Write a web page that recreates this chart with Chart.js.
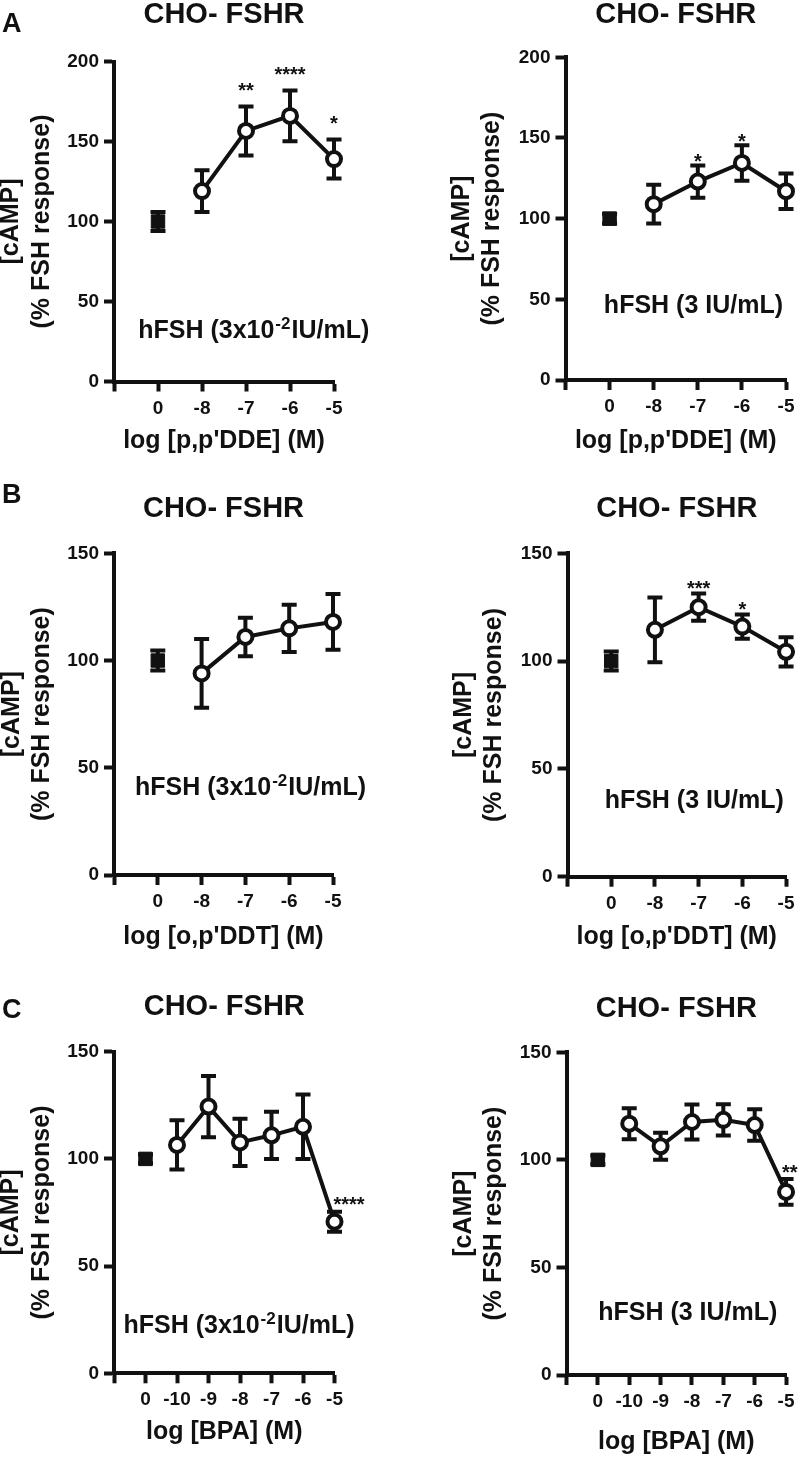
<!DOCTYPE html>
<html>
<head>
<meta charset="utf-8">
<script src="https://cdn.jsdelivr.net/npm/chart.js@4.4.1/dist/chart.umd.min.js"></script>
<style>
html,body{margin:0;padding:0;background:#fff;}
body{width:800px;height:1461px;position:relative;overflow:hidden;}
canvas{position:absolute;}
</style>
</head>
<body>
<canvas id="cA1"></canvas>
<canvas id="cA2"></canvas>
<canvas id="cB1"></canvas>
<canvas id="cB2"></canvas>
<canvas id="cC1"></canvas>
<canvas id="cC2"></canvas>
<script>
// ---------- data ----------
const ddeDoses = ['0', '-8', '-7', '-6', '-5'];
const ddtDoses = ['0', '-8', '-7', '-6', '-5'];
const bpaDoses = ['0', '-10', '-9', '-8', '-7', '-6', '-5'];

const ddeLowMean  = [100, 119, 156.6, 166, 139];
const ddeLowErr   = [6, 13, 15.3, 15.8, 12.2];
const ddeLowStars = ['', '', '**', '****', '*'];

const ddeHighMean  = [100, 109, 123, 134.5, 117];
const ddeHighErr   = [3, 12, 10, 11, 11];
const ddeHighStars = ['', '', '*', '*', ''];

const ddtLowMean  = [100, 94, 111, 115, 118];
const ddtLowErr   = [4.7, 16, 9, 11, 13];
const ddtLowStars = ['', '', '', '', ''];

const ddtHighMean  = [100, 114.5, 125, 116, 104.3];
const ddtHighErr   = [4.4, 15, 6.3, 5.6, 6.8];
const ddtHighStars = ['', '', '***', '*', ''];

const bpaLowMean  = [100, 106.5, 124.4, 107.7, 111, 115, 70.7];
const bpaLowErr   = [2, 11.5, 14.3, 11, 11, 15, 4.7];
const bpaLowStars = ['', '', '', '', '', '', '****'];

const bpaHighMean  = [100, 116.8, 106.3, 117.6, 118.6, 116.2, 85.1];
const bpaHighErr   = [2, 7.2, 6.3, 8.1, 7.3, 7.3, 6];
const bpaHighStars = ['', '', '', '', '', '', '**'];

const panelTitle = 'CHO- FSHR';
const yAxisTitle = ['[cAMP]', '(% FSH response)'];
const noteLow  = ['hFSH (3x10', '-2', 'IU/mL)'];
const noteHigh = ['hFSH (3 IU/mL)', '', ''];

// ---------- layout (absolute page coords) ----------
const FONT = "'Liberation Sans', Arial, Helvetica, sans-serif";
const INK = '#111';
const LW = 4;

const panels = [
  {id:'cA1', canvas:[0,0,400,462], area:[114,334,61.5,381.5], titleMid:15, xTitleMid:441.6, yTitleMid1:11.2,
   doses:ddeDoses, mean:ddeLowMean, err:ddeLowErr, stars:ddeLowStars, yMax:200, xTitle:"log [p,p'DDE] (M)",
   note:noteLow, noteAt:{x:-0.45, y:27}, starGap:21, starAlign:'center', letter:'A', letterAt:[2,32]},
  {id:'cA2', canvas:[400,0,400,462], area:[565.5,786,57.3,380], titleMid:14.5, xTitleMid:441.6, yTitleMid1:461.9,
   doses:ddeDoses, mean:ddeHighMean, err:ddeHighErr, stars:ddeHighStars, yMax:200, xTitle:"log [p,p'DDE] (M)",
   note:noteHigh, noteAt:{x:-0.13, y:41.3}, starGap:8.5, starAlign:'center'},
  {id:'cB1', canvas:[0,462,400,492], area:[114,333,553.3,875], titleMid:508.6, xTitleMid:937.6, yTitleMid1:12.1,
   doses:ddtDoses, mean:ddtLowMean, err:ddtLowErr, stars:ddtLowStars, yMax:150, xTitle:"log [o,p'DDT] (M)",
   note:noteLow, noteAt:{x:-0.52, y:37.3}, starGap:10, starAlign:'center', letter:'B', letterAt:[2,503]},
  {id:'cB2', canvas:[400,462,400,492], area:[567.5,787.3,553.3,876.7], titleMid:508.6, xTitleMid:937.6, yTitleMid1:463.7,
   doses:ddtDoses, mean:ddtHighMean, err:ddtHighErr, stars:ddtHighStars, yMax:150, xTitle:"log [o,p'DDT] (M)",
   note:noteHigh, noteAt:{x:-0.15, y:31.7}, starGap:9.5, starAlign:'center'},
  {id:'cC1', canvas:[0,954,400,507], area:[114,334.5,1051.7,1373.3], titleMid:1007, xTitleMid:1432.6, yTitleMid1:11.2,
   doses:bpaDoses, mean:bpaLowMean, err:bpaLowErr, stars:bpaLowStars, yMax:150, xTitle:'log [BPA] (M)',
   note:noteLow, noteAt:{x:-0.70, y:18.7}, starGap:11.7, starAlign:'left', starDx:-1, letter:'C', letterAt:[2,1018]},
  {id:'cC2', canvas:[400,954,400,507], area:[566.5,787,1052.3,1375], titleMid:1008.6, xTitleMid:1442.3, yTitleMid1:463.7,
   doses:bpaDoses, mean:bpaHighMean, err:bpaHighErr, stars:bpaHighStars, yMax:150, xTitle:'log [BPA] (M)',
   note:noteHigh, noteAt:{x:0.01, y:25.6}, starGap:11, starAlign:'left', starDx:-4}
];

// ---------- plugins ----------
const errorBarPlugin = {
  id: 'errbars',
  beforeDatasetsDraw(chart) {
    const {ctx, scales: {x, y}} = chart;
    ctx.save();
    ctx.strokeStyle = INK;
    ctx.lineWidth = LW;
    ctx.lineCap = 'butt';
    chart.data.datasets.forEach(ds => {
      ds.data.forEach((pt, i) => {
        const e = ds.errors[i];
        if (!e) return;
        const px = x.getPixelForValue(pt.x);
        const yt = y.getPixelForValue(pt.y + e);
        const yb = y.getPixelForValue(pt.y - e);
        ctx.beginPath();
        ctx.moveTo(px, yt); ctx.lineTo(px, yb);
        ctx.moveTo(px - 7.5, yt); ctx.lineTo(px + 7.5, yt);
        ctx.moveTo(px - 7.5, yb); ctx.lineTo(px + 7.5, yb);
        ctx.stroke();
      });
    });
    ctx.restore();
  }
};

const starsPlugin = {
  id: 'stars',
  afterDatasetsDraw(chart, args, opts) {
    const {ctx, scales: {x, y}} = chart;
    const size = 20;
    ctx.save();
    ctx.fillStyle = INK;
    ctx.font = 'bold ' + size + 'px ' + FONT;
    ctx.textBaseline = 'alphabetic';
    ctx.textAlign = opts.align || 'center';
    chart.data.datasets.forEach(ds => {
      ds.data.forEach((pt, i) => {
        const s = ds.stars[i];
        if (!s) return;
        const px = x.getPixelForValue(pt.x) + (opts.dx || 0);
        const yt = y.getPixelForValue(pt.y + ds.errors[i]);
        const mid = yt - opts.gap;
        ctx.fillText(s, px, mid + 0.56 * size);
      });
    });
    ctx.restore();
  }
};

const notePlugin = {
  id: 'note',
  afterDraw(chart, args, opts) {
    const {ctx, scales: {x, y}} = chart;
    const [main, sup, tail] = opts.parts;
    let px = x.getPixelForValue(opts.at.x);
    const py = y.getPixelForValue(opts.at.y);
    ctx.save();
    ctx.fillStyle = INK;
    ctx.textBaseline = 'alphabetic';
    ctx.textAlign = 'left';
    ctx.font = 'bold 25px ' + FONT;
    ctx.fillText(main, px, py);
    px += ctx.measureText(main).width;
    if (sup) {
      ctx.font = 'bold 17px ' + FONT;
      ctx.fillText(sup, px + 1, py - 9);
      px += ctx.measureText(sup).width + 2;
    }
    if (tail) {
      ctx.font = 'bold 25px ' + FONT;
      ctx.fillText(tail, px, py);
    }
    ctx.restore();
  }
};

const letterPlugin = {
  id: 'letter',
  afterDraw(chart, args, opts) {
    if (!opts.text) return;
    const ctx = chart.ctx;
    ctx.save();
    ctx.fillStyle = INK;
    ctx.font = 'bold 27px ' + FONT;
    ctx.textBaseline = 'alphabetic';
    ctx.textAlign = 'left';
    ctx.fillText(opts.text, opts.x, opts.y);
    ctx.restore();
  }
};

// ---------- build ----------
function buildPanel(p) {
  const canvas = document.getElementById(p.id);
  const [cl, ct, cw, ch] = p.canvas;
  canvas.width = cw; canvas.height = ch;
  canvas.style.left = cl + 'px'; canvas.style.top = ct + 'px';
  canvas.style.width = cw + 'px'; canvas.style.height = ch + 'px';
  const [al, ar, at, ab] = p.area;

  const Y_LH = 30.5;
  const yMidLocal = p.yTitleMid1 - cl;
  const padLeft = Math.max(0, yMidLocal - Y_LH / 2);
  const yTitlePadTop = yMidLocal - Y_LH / 2 - padLeft;
  const yScaleWidth = al - cl - padLeft;
  const padRight = cl + cw - ar;

  const T_LH = 32;
  const titlePadTop = p.titleMid - ct - T_LH / 2;
  const titlePadBottom = (at - ct) - (titlePadTop + T_LH);

  const X_LH = 28;
  const scaleBottom = p.xTitleMid - ct + X_LH / 2;
  let padBottom = ch - scaleBottom;
  let xTitlePadBottom = 0;
  if (padBottom < 0) { xTitlePadBottom = padBottom; padBottom = 0; }
  const xScaleHeight = (ch - padBottom) - (ab - ct);

  const n = p.doses.length;

  new Chart(canvas, {
    type: 'line',
    data: {
      datasets: [
        {
          label: 'hFSH',
          data: [{x: 0, y: p.mean[0]}],
          errors: [p.err[0]],
          stars: [p.stars[0]],
          clip: false,
          showLine: false,
          pointStyle: 'rect',
          pointRadius: 9.5,
          pointBackgroundColor: INK,
          pointBorderColor: INK,
          pointBorderWidth: 1
        },
        {
          label: 'hFSH + compound',
          data: p.mean.slice(1).map((v, i) => ({x: i + 1, y: v})),
          errors: p.err.slice(1),
          stars: p.stars.slice(1),
          clip: false,
          borderColor: INK,
          borderWidth: LW,
          tension: 0,
          fill: false,
          pointStyle: 'circle',
          pointRadius: 7,
          pointBackgroundColor: '#fff',
          pointBorderColor: INK,
          pointBorderWidth: LW
        }
      ]
    },
    options: {
      responsive: false,
      animation: false,
      devicePixelRatio: 1,
      events: [],
      layout: {padding: {left: padLeft, right: padRight, top: 0, bottom: padBottom}},
      plugins: {
        legend: {display: false},
        tooltip: {enabled: false},
        title: {
          display: true, text: panelTitle, fullSize: false, color: INK,
          font: {family: FONT, size: 29, weight: 'bold', lineHeight: T_LH + 'px'},
          padding: {top: titlePadTop, bottom: titlePadBottom}
        },
        stars: {gap: p.starGap, align: p.starAlign, dx: p.starDx || 0},
        note: {parts: p.note, at: p.noteAt},
        letter: {text: p.letter || '', x: p.letterAt ? p.letterAt[0] - cl : 0, y: p.letterAt ? p.letterAt[1] - ct : 0}
      },
      scales: {
        x: {
          type: 'linear', min: -1, max: n - 1,
          afterFit(s) { s.height = xScaleHeight; },
          ticks: {
            stepSize: 1, autoSkip: false, maxRotation: 0, minRotation: 0, padding: 5.5, color: INK,
            font: {family: FONT, size: 19, weight: 'bold'},
            callback: (v) => { const k = Math.round(v); return k >= 0 ? p.doses[k] : ''; }
          },
          grid: {drawOnChartArea: false, drawTicks: true, tickLength: 10, tickWidth: LW, tickColor: INK},
          border: {display: true, color: INK, width: LW},
          title: {
            display: true, text: p.xTitle, color: INK,
            font: {family: FONT, size: 25, weight: 'bold', lineHeight: X_LH + 'px'},
            padding: {top: 0, bottom: xTitlePadBottom}
          }
        },
        y: {
          type: 'linear', min: 0, max: p.yMax,
          afterFit(s) { s.width = yScaleWidth; },
          ticks: {stepSize: 50, padding: 5, color: INK, font: {family: FONT, size: 19, weight: 'bold'}},
          grid: {drawOnChartArea: false, drawTicks: true, tickLength: 10, tickWidth: LW, tickColor: INK},
          border: {display: true, color: INK, width: LW},
          title: {
            display: true, text: yAxisTitle, color: INK,
            font: {family: FONT, size: 25, weight: 'bold', lineHeight: Y_LH + 'px'},
            padding: {top: yTitlePadTop, bottom: 0}
          }
        }
      }
    },
    plugins: [errorBarPlugin, starsPlugin, notePlugin, letterPlugin]
  });
}

panels.forEach(buildPanel);
</script>
</body>
</html>
